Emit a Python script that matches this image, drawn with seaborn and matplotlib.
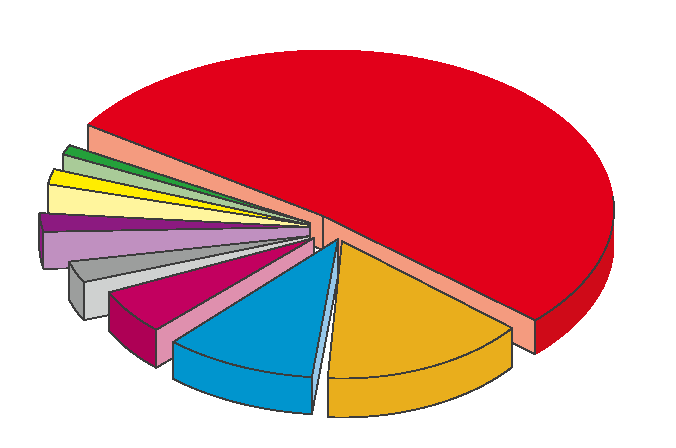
"""Exploded 3D pie drawn as projected wedges."""
import numpy as np
import seaborn as sns

from matplotlib import pyplot as plt


NAMES = ["green", "yellow", "purple", "gray", "magenta", "blue", "gold", "red"]
VALUES = [1.0, 1.58, 1.94, 3.0, 5.75, 10.03, 15.11, 53.19]
GAPS = [7.4, 5.8, 12.6, 2.9, 1.6, 1.8, 2.4, -4.3]
START_ANGLE = 147.9

TOP_COLORS = ["#24A03A", "#FFED00", "#8C1A80", "#9C9E9D",
              "#C2005F", "#0095CE", "#E9AE1C", "#E2001A"]
FACE_COLORS = ["#A9CB98", "#FFF59D", "#C090C0", "#CFD1D0",
               "#DF90AE", "#96C8EA", "#E9AE1C", "#F49B7F"]
RIM_COLORS = ["#24A03A", "#FFED00", "#8C1A80", "#9C9E9D",
              "#AE0055", "#0095CE", "#E9AE1C", "#CF0A18"]

# projected ellipse of every wedge, in picture pixels
CENTER_X = [325, 325, 329, 310, 314, 338, 342, 329]
CENTER_Y = [210, 210, 205, 236, 238, 239, 241, 210]
RADIUS_X = [281, 281, 290, 247, 227, 245, 220, 285]
RADIUS_Y = [155, 155, 155, 115, 127.6, 139, 137.5, 160]
TIP_X = [310, 310, 310, 310, 314, 338, 342, 323]
TIP_Y = [223, 225, 227, 236, 238, 239, 241, 216]
DEPTH = [29, 29, 37, 38, 38, 37, 39, 34]

DRAW_ORDER = ["red", "green", "yellow", "purple", "gray", "magenta", "gold", "blue"]
EDGE = "#3C3C3C"
LINE = 0.6
RED_EDGE_END = 364.7


def slice_angles():
    """Turn the values into start and end angles on the ellipse."""
    angles = {}
    current = START_ANGLE
    for name, value, gap in zip(NAMES, VALUES, GAPS):
        current += gap
        angles[name] = (current, current + value * 3.6)
        current += value * 3.6
    return angles


def arc(i, t_start, t_end, drop=0):
    t = np.radians(np.linspace(t_start, t_end, 120))
    x = CENTER_X[i] + RADIUS_X[i] * np.cos(t)
    y = CENTER_Y[i] - RADIUS_Y[i] * np.sin(t) + drop
    return x, y


def draw_face(ax, i, angle, color):
    """Cut face running from the outer edge back to the tip."""
    x, y = arc(i, angle, angle)
    xs = [TIP_X[i], x[0], x[0], TIP_X[i]]
    ys = [TIP_Y[i], y[0], y[0] + DEPTH[i], TIP_Y[i] + DEPTH[i]]
    ax.fill(xs, ys, facecolor=color, edgecolor=EDGE, linewidth=LINE, antialiased=False)


def draw_rim(ax, i, t_start, t_end, color, edge=EDGE):
    """Outer wall, only where it faces the viewer."""
    low = max(t_start, 180)
    high = min(t_end, 360)
    if high <= low:
        return
    x, y = arc(i, low, high)
    x2, y2 = arc(i, high, low, drop=DEPTH[i])
    ax.fill(np.r_[x, x2], np.r_[y, y2], facecolor=color, edgecolor=edge,
            linewidth=LINE, antialiased=False)


def make_plot():
    sns.set_theme(style="white")
    tops = sns.color_palette(TOP_COLORS)
    faces = sns.color_palette(FACE_COLORS)
    rims = sns.color_palette(RIM_COLORS)

    fig, ax = plt.subplots(figsize=(6.76, 4.48), dpi=100)
    ax.set_position([0, 0, 1, 1])

    angles = slice_angles()
    for name in DRAW_ORDER:
        i = NAMES.index(name)
        t_start, t_end = angles[name]
        x, y = arc(i, t_start, t_end)
        if name == "red":
            # the big slice has no outline along most of its outer edge
            draw_rim(ax, i, t_start, t_end, rims[i], edge="none")
            draw_face(ax, i, t_start, faces[i])
            draw_face(ax, i, t_end, faces[i])
            ax.fill(np.r_[TIP_X[i], x], np.r_[TIP_Y[i], y],
                    facecolor=tops[i], edgecolor="none", antialiased=False)
            ax.plot([x[-1], TIP_X[i], x[0]], [y[-1], TIP_Y[i], y[0]],
                    color=EDGE, linewidth=LINE, antialiased=False)
            x_edge, y_edge = arc(i, t_start, RED_EDGE_END)
            ax.plot(x_edge, y_edge, color=EDGE, linewidth=LINE, antialiased=False)
            continue
        draw_rim(ax, i, t_start, t_end, rims[i])
        if name != "gold":
            draw_face(ax, i, t_end, faces[i])
        ax.fill(np.r_[TIP_X[i], x], np.r_[TIP_Y[i], y],
                facecolor=tops[i], edgecolor=EDGE, linewidth=LINE, antialiased=False)

    ax.set_xlim(0, 676)
    ax.set_ylim(448, 0)
    ax.axis("off")
    plt.savefig("out.png", facecolor="w", dpi=100)
    plt.close("all")


if __name__ == '__main__':
    make_plot()
